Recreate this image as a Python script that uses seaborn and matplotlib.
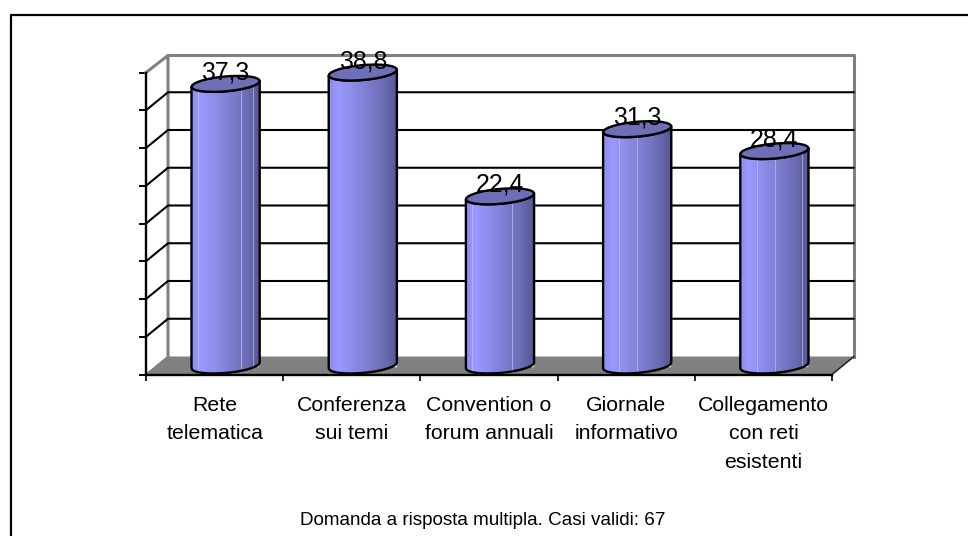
import numpy as np
import pandas as pd
import matplotlib
matplotlib.use("Agg")
import matplotlib.pyplot as plt
from matplotlib.colors import LinearSegmentedColormap
from matplotlib.patches import Polygon
from matplotlib.lines import Line2D
import seaborn as sns

categories = ["Rete\ntelematica", "Conferenza\nsui temi", "Convention o\nforum annuali",
              "Giornale\ninformativo", "Collegamento\ncon reti\nesistenti"]
values = [37.3, 38.8, 22.4, 31.3, 28.4]
value_labels = ["37,3", "38,8", "22,4", "31,3", "28,4"]
y_ticks = [0, 5, 10, 15, 20, 25, 30, 35, 40]
note = "Domanda a risposta multipla. Casi validi: 67"
sheen = [[.09, .73, .9], [], [.09, .68], [.23, .5], [.25, .51, .91]]

sns.set_theme(style="white", rc={"axes.facecolor": "none"})
plt.rcParams["font.family"] = ["Liberation Sans", "DejaVu Sans"]

W, H = 968, 536
fig = plt.figure(figsize=(W / 100, H / 100), dpi=100, facecolor="white")
ax = fig.add_axes([146 / W, 1 - 374.5 / H, (832 - 146) / W, (374.5 - 72.5) / H])

df = pd.DataFrame({"cat": categories, "val": values})
sns.barplot(data=df, x="cat", y="val", ax=ax, width=0.496, color="#7878C8",
            saturation=1, errorbar=None, zorder=4)
bars = list(ax.patches)
ax.set_xlabel("")
ax.set_ylabel("")
ax.set_xlim(-0.5, 4.5)
ax.set_ylim(0, 40)
pxx = (832 - 146) / 5
pxy = (374.5 - 72.5) / 40
dx, dy = 22 / pxx, 18 / pxy
x0, x1 = -0.5, 4.5
wall_top = 40 + dy - 1 / pxy

# walls and floor
ax.add_patch(Polygon([[x0, 0], [x1, 0], [x1 + dx, dy], [x0 + dx, dy]], closed=True,
                     fc="#808080", ec="none", clip_on=False, zorder=1))
GR = "#808080"
wall = dict(color=GR, lw=2.2, clip_on=False, zorder=1.5, solid_capstyle="projecting")
ax.add_line(Line2D([x0, x0 + dx, x0 + dx], [40, wall_top, dy], **wall))
ax.add_line(Line2D([x0 + dx, x1 + dx, x1 + dx], [wall_top, wall_top, dy], **wall))
ax.add_line(Line2D([x0, x0 + dx], [0, dy], color=GR, lw=1.2, clip_on=False, zorder=1.5))
ax.add_line(Line2D([x1, x1 + dx], [0, dy], color="#202020", lw=1.1, clip_on=False, zorder=1.6))
for v in y_ticks[1:-1]:
    ax.add_line(Line2D([x0, x0 + dx, x1 + dx], [v, v + dy, v + dy], color="black",
                       lw=1.5, clip_on=False, zorder=2))

# axes furniture
for s in ["top", "right"]:
    ax.spines[s].set_visible(False)
for s in ["left", "bottom"]:
    ax.spines[s].set_visible(True)
    ax.spines[s].set_color("black")
    ax.spines[s].set_linewidth(1.7)
    ax.spines[s].set_zorder(7)
ax.set_yticks(y_ticks)
ax.set_yticklabels([])
ax.set_xticks(range(5))
ax.set_xticklabels(categories, fontsize=15.3, color="black", linespacing=1.62)
ax.set_xticks(np.arange(-0.5, 5), minor=True)
ax.tick_params(axis="x", which="major", length=0, pad=15.5)
ax.tick_params(axis="x", which="minor", length=4.5, width=1.2, color="black", bottom=True)
ax.tick_params(axis="y", length=5, width=1.4, color="black", left=True)

# cylinders
cmap = LinearSegmentedColormap.from_list(
    "cyl", [(0, "#8E8EEE"), (.14, "#9999FF"), (.5, "#8282D8"), (.8, "#6C6CB4"), (1, "#55558F")])
grad = np.linspace(0, 1, 256).reshape(1, -1)
ax_r, bx_r, by_r = 31.8 / pxx, 12.3 / pxx, 8 / pxy
t0 = np.arctan2(bx_r, ax_r)

def ell(cx, cy, t):
    return np.c_[cx + ax_r * np.cos(t) + bx_r * np.sin(t), cy + by_r * np.sin(t)]

half_w = np.hypot(ax_r, bx_r)
low = np.linspace(t0 + np.pi, t0 + 2 * np.pi, 14)
full = np.linspace(0, 2 * np.pi, 29)
for i, bar in enumerate(bars):
    cx = bar.get_x() + bar.get_width() / 2 + dx / 2
    h = bar.get_height()
    bar.set_x(cx - half_w + 0.01)
    bar.set_width(2 * half_w - 0.02)
    bar.set_y(dy / 2)
    base = ell(cx, dy / 2, low)
    top = ell(cx, h + dy / 2, low)
    outline = np.vstack([base, top[::-1]])
    body = Polygon(outline, closed=True, fc="none", ec="black", lw=1.7, clip_on=False,
                   zorder=5.5, joinstyle="round")
    ax.add_patch(body)
    im = ax.imshow(grad, cmap=cmap, aspect="auto", vmin=0, vmax=1, zorder=5,
                   extent=[cx - half_w, cx + half_w, 0, h + dy], interpolation="bilinear")
    im.set_clip_path(Polygon(outline, closed=True, transform=ax.transData))
    for f in sheen[i]:
        xs = cx - half_w + f * 2 * half_w
        ybot = np.interp(xs, base[:, 0], base[:, 1])
        ytop = np.interp(xs, top[:, 0], top[:, 1])
        ax.add_line(Line2D([xs, xs], [ybot, ytop], color="#C4C4F4", lw=0.7, alpha=.65,
                           clip_on=False, zorder=5.2))
    ax.add_patch(Polygon(ell(cx, h + dy / 2, full), closed=True, fc="#6F6FB8", ec="black",
                         lw=1.7, clip_on=False, zorder=6, joinstyle="round"))
    ax.annotate(value_labels[i], (cx, h + dy / 2), xytext=(0, 3.2), textcoords="offset points",
                ha="center", va="baseline", fontsize=17.9, color="black", zorder=8,
                annotation_clip=False)
ax.set_xlim(-0.5, 4.5)
ax.set_ylim(0, 40)

# frame and note
fig.add_artist(Line2D([10.5 / W, 10.5 / W, 1], [0, 1 - 15 / H, 1 - 15 / H], color="black",
                      lw=1.6, transform=fig.transFigure))
fig.text(482.5 / W, 1 - 520.5 / H, note, ha="center", va="center", fontsize=13.6, color="black")

fig.savefig("out.png", dpi=100, facecolor="white")
